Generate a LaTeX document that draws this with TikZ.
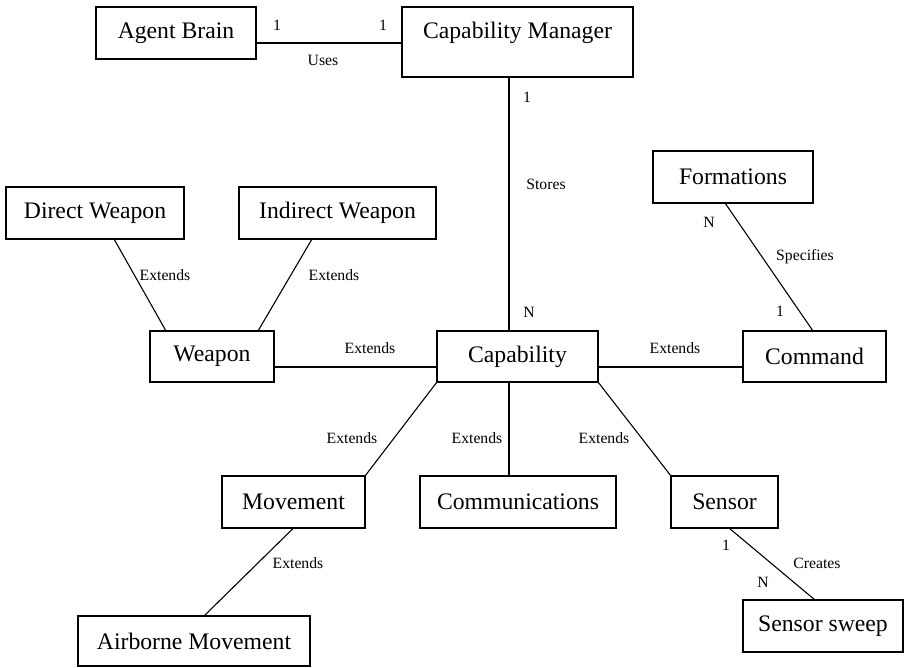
\documentclass[tikz,border=0pt]{standalone}
\usepackage{fontspec}
\setmainfont{Liberation Serif}
\usetikzlibrary{calc}
\begin{document}
\begin{tikzpicture}[x=1pt,y=-1pt,
  box/.style={draw,line width=1.1pt,anchor=north west,inner sep=0pt,outer sep=0pt,
    font=\fontsize{23.7}{28}\selectfont},
  big/.style={inner sep=0pt,font=\fontsize{23.7}{28}\selectfont},
  lbl/.style={inner sep=0pt,font=\fontsize{15.7}{18}\selectfont},
  conn/.style={line width=1.1pt}]
\useasboundingbox (0,0) rectangle (904,668);
% boxes
\node[box,minimum width=160pt,minimum height=52pt] (ab) at (96,7) {Agent Brain};
\node[box,minimum width=231pt,minimum height=70pt] (cm) at (402,7) {};
\node[big] (cmtext) at ([yshift=-26pt]cm.north) {Capability Manager};
\node[box,minimum width=178pt,minimum height=52pt] (dw) at (6,187) {Direct Weapon};
\node[box,minimum width=197pt,minimum height=52pt] (iw) at (239,187) {Indirect Weapon};
\node[box,minimum width=160pt,minimum height=52pt] (fm) at (653,151) {Formations};
\node[box,minimum width=124pt,minimum height=51pt] (wp) at (150,331) {Weapon};
\node[box,minimum width=161pt,minimum height=51pt] (cap) at (437,331) {Capability};
\node[box,minimum width=143pt,minimum height=51pt] (cmd) at (743,331) {Command};
\node[box,minimum width=143pt,minimum height=52pt] (mov) at (222,476) {Movement};
\node[box,minimum width=196pt,minimum height=52pt] (com) at (420,476) {Communications};
\node[box,minimum width=107pt,minimum height=52pt] (sen) at (671,476) {Sensor};
\node[box,minimum width=232pt,minimum height=50pt] (air) at (78,616) {Airborne Movement};
\node[box,minimum width=160pt,minimum height=52pt] (sw) at (743,600) {Sensor sweep};
% connectors
\draw[conn] ([yshift=-10pt]ab.east) -- ([yshift=-10pt]ab.east -| cm.west);
\draw[conn] ([xshift=-8.5pt]cm.south) -- ([xshift=-8.5pt]cm.south |- cap.north);
\draw[conn] ([xshift=19pt]dw.south) -- ([xshift=-46pt]wp.north);
\draw[conn] ([xshift=-25.5pt]iw.south) -- ([xshift=46pt]wp.north);
\draw[conn] ([yshift=-10.5pt]wp.east) -- ([yshift=-10.5pt]wp.east -| cap.west);
\draw[conn] ([yshift=-10.5pt]cap.east) -- ([yshift=-10.5pt]cap.east -| cmd.west);
\draw[conn] ([xshift=-8pt]fm.south) -- ([xshift=-1.5pt]cmd.north);
\draw[conn] (cap.south west) -- (mov.north east);
\draw[conn] ([xshift=-8.5pt]cap.south) -- ([xshift=-8.5pt]cap.south |- com.north);
\draw[conn] (cap.south east) -- (sen.north west);
\draw[conn] (mov.south) -- ([xshift=10pt]air.north);
\draw[conn] ([xshift=4.5pt]sen.south) -- ([xshift=-8pt]sw.north);
% labels
\node[lbl] (l1) at (277,25) {1};
\node[lbl] (l2) at (383,25) {1};
\node[lbl] (l3) at (323,60) {Uses};
\node[lbl] (l4) at (527,97) {1};
\node[lbl] (l5) at (546,184) {Stores};
\node[lbl] (l6) at (529,312) {N};
\node[lbl] (l7) at (165,275) {Extends};
\node[lbl] (l8) at (334,275) {Extends};
\node[lbl] (l9) at (370,348) {Extends};
\node[lbl] (l10) at (675,348) {Extends};
\node[lbl] (l11) at (709,222) {N};
\node[lbl] (l12) at (805,257) {Specifies};
\node[lbl] (l13) at (780,311) {1};
\node[lbl] (l14) at (352,438) {Extends};
\node[lbl] (l15) at (477,438) {Extends};
\node[lbl] (l16) at (604,438) {Extends};
\node[lbl] (l17) at (298,563) {Extends};
\node[lbl] (l18) at (726,545) {1};
\node[lbl] (l19) at (817,563) {Creates};
\node[lbl] (l20) at (763,582) {N};
\end{tikzpicture}
\end{document}
